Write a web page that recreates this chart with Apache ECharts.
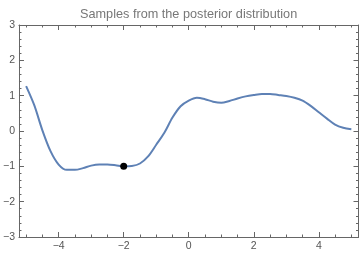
<!DOCTYPE html>
<html>
<head>
<meta charset="utf-8">
<script src="https://cdn.jsdelivr.net/npm/echarts@6/dist/echarts.min.js"></script>
<style>html,body{margin:0;padding:0;background:#fff}#c{width:360px;height:255px}</style>
</head>
<body>
<div id="c"></div>
<script>
const titleText = 'Samples from the posterior distribution';
const xs = [-5.0,-4.75,-4.5,-4.25,-4.0,-3.75,-3.5,-3.25,-3.0,-2.75,-2.5,-2.25,-2.0,-1.75,-1.5,-1.25,-1.0,-0.75,-0.5,-0.25,0.0,0.25,0.5,0.75,1.0,1.25,1.5,1.75,2.0,2.25,2.5,2.75,3.0,3.25,3.5,3.75,4.0,4.25,4.5,4.75,5.0];
const ys = [1.27,0.73,0.02,-0.57,-0.95,-1.10,-1.10,-1.05,-0.98,-0.95,-0.95,-0.97,-1.00,-0.99,-0.92,-0.72,-0.39,-0.05,0.38,0.70,0.86,0.94,0.90,0.83,0.80,0.85,0.92,0.98,1.02,1.05,1.05,1.02,0.99,0.94,0.86,0.71,0.53,0.35,0.18,0.09,0.05];
const pointX = [-2];
const pointY = [-1];
const xMajor = [-4,-2,0,2,4];
const xMinor = [-5,-4.5,-3.5,-3,-2.5,-1.5,-1,-0.5,0.5,1,1.5,2.5,3,3.5,4.5,5];
const yMajor = [-3,-2,-1,0,1,2,3];
const yMinor = [-2.8,-2.6,-2.4,-2.2,-1.8,-1.6,-1.4,-1.2,-0.8,-0.6,-0.4,-0.2,0.2,0.4,0.6,0.8,1.2,1.4,1.6,1.8,2.2,2.4,2.6,2.8];

const axisColor = '#666';
const fmt = v => (v < 0 ? '\u2212' + Math.abs(v) : String(v));
const X_MIN = -5.22, X_MAX = 5.22, Y_MIN = -3, Y_MAX = 3;
const labelFont = {color: '#555', fontSize: 10.5, fontFamily: 'Liberation Sans'};

function xAx(pos, ticks, len, labels, showLine) {
  return {
    type: 'value', min: X_MIN, max: X_MAX, position: pos,
    axisLine: {show: showLine, onZero: false, lineStyle: {color: axisColor, width: 1}},
    axisTick: {show: true, inside: true, length: len, customValues: ticks, lineStyle: {color: axisColor, width: 1}},
    axisLabel: labels ? Object.assign({show: true, customValues: ticks, formatter: fmt, margin: 4}, labelFont) : {show: false},
    splitLine: {show: false}
  };
}
function yAx(pos, ticks, len, labels, showLine) {
  return {
    type: 'value', min: Y_MIN, max: Y_MAX, position: pos,
    axisLine: {show: showLine, onZero: false, lineStyle: {color: axisColor, width: 1}},
    axisTick: {show: true, inside: true, length: len, customValues: ticks, lineStyle: {color: axisColor, width: 1}},
    axisLabel: labels ? Object.assign({show: true, customValues: ticks, formatter: fmt, margin: 4}, labelFont) : {show: false},
    splitLine: {show: false}
  };
}

const chart = echarts.init(document.getElementById('c'), null, {renderer: 'canvas'});
chart.setOption({
  animation: false,
  title: {text: titleText, left: 75, top: 3, textStyle: {color: '#777', fontSize: 12.7, fontWeight: 'normal', fontFamily: 'Liberation Sans'}},
  grid: {left: 16.5, right: 1.5, top: 25, bottom: 18, containLabel: false},
  xAxis: [
    xAx('bottom', xMajor, 5, true, true),
    xAx('bottom', xMinor, 2.5, false, false),
    xAx('top', xMajor, 5, false, true),
    xAx('top', xMinor, 2.5, false, false)
  ],
  yAxis: [
    yAx('left', yMajor, 5, true, true),
    yAx('left', yMinor, 2.5, false, false),
    yAx('right', yMajor, 5, false, true),
    yAx('right', yMinor, 2.5, false, false)
  ],
  series: [
    {type: 'line', xAxisIndex: 0, yAxisIndex: 0, data: xs.map((x, i) => [x, ys[i]]), showSymbol: false, smooth: 0.3,
     lineStyle: {color: '#5E81B5', width: 2}, z: 2},
    {type: 'scatter', xAxisIndex: 0, yAxisIndex: 0, data: pointX.map((x, i) => [x, pointY[i]]), symbol: 'circle', symbolSize: 7,
     itemStyle: {color: '#000', opacity: 1}, z: 3}
  ]
});
</script>
</body>
</html>
